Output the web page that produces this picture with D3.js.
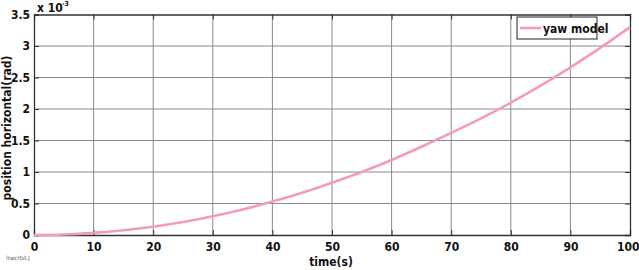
<!DOCTYPE html>
<html><head><meta charset="utf-8">
<script src="https://cdn.jsdelivr.net/npm/d3@7"></script>
<style>body{margin:0;background:#fff}svg{display:block}</style>
</head><body>
<svg id="c" width="639" height="270"></svg>
<script>
const timeValues = [0, 5, 10, 15, 20, 25, 30, 35, 40, 45, 50, 55, 60, 65, 70, 75, 80, 85, 90, 95, 100];
const yawValues  = [0, 0.008, 0.033, 0.075, 0.132, 0.206, 0.297, 0.405, 0.53, 0.67, 0.83, 1.0, 1.19, 1.40, 1.62, 1.85, 2.10, 2.37, 2.66, 2.97, 3.30];
const xTicks = [0,10,20,30,40,50,60,70,80,90,100];
const yTicks = [0,0.5,1,1.5,2,2.5,3,3.5];
const seriesName = "yaw model";

const svg = d3.select("#c");
const L = 34, R = 630, T = 14.5, B = 235;
const x = d3.scaleLinear().domain([0,100]).range([L,R]);
const y = d3.scaleLinear().domain([0,3.5]).range([B,T]);
const font = "'DejaVu Sans Condensed','Liberation Sans Narrow','Arial Narrow',sans-serif";

// grid
svg.append("g").selectAll("line").data(xTicks.slice(1,-1)).join("line")
  .attr("x1",d=>x(d)).attr("x2",d=>x(d)).attr("y1",T).attr("y2",B)
  .attr("stroke","#8a8a8a").attr("stroke-width",1);
svg.append("g").selectAll("line").data(yTicks.slice(1,-1)).join("line")
  .attr("y1",d=>y(d)).attr("y2",d=>y(d)).attr("x1",L).attr("x2",R)
  .attr("stroke","#8a8a8a").attr("stroke-width",1);

// axes with inward ticks
const ax = svg.append("g").attr("transform",`translate(0,${B})`)
  .call(d3.axisBottom(x).tickValues(xTicks).tickSize(-5).tickPadding(7).tickFormat(d3.format("d")));
const axT = svg.append("g").attr("transform",`translate(0,${T})`)
  .call(d3.axisTop(x).tickValues(xTicks).tickSize(-5).tickFormat(""));
const ay = svg.append("g").attr("transform",`translate(${L},0)`)
  .call(d3.axisLeft(y).tickValues(yTicks).tickSize(-5).tickPadding(4).tickFormat(d=>d3.format("")(d)));
const ayR = svg.append("g").attr("transform",`translate(${R},0)`)
  .call(d3.axisRight(y).tickValues(yTicks).tickSize(-5).tickFormat(""));
[ax,axT,ay,ayR].forEach(g=>{
  g.selectAll("path").attr("stroke","#333").attr("stroke-width",1.3);
  g.selectAll("line").attr("stroke","#333");
  g.selectAll("text").attr("fill","#111").style("font-family",font).style("font-size","12px").style("font-weight","bold");
});
ax.selectAll(".tick text").filter(d=>d===100).attr("text-anchor","end").attr("dx","9");

// line
svg.append("path").datum(timeValues.map((t,i)=>[t,yawValues[i]]))
  .attr("fill","none").attr("stroke","#f49ac1").attr("stroke-width",2.6)
  .attr("d", d3.line().x(d=>x(d[0])).y(d=>y(d[1])).curve(d3.curveMonotoneX));

// exponent
svg.append("text").attr("x",37).attr("y",12).text("x 10")
  .style("font-family",font).style("font-size","12px").style("font-weight","bold").attr("fill","#111");
svg.append("text").attr("x",62).attr("y",6).text("-3")
  .style("font-family",font).style("font-size","7px").style("font-weight","bold").attr("fill","#111");

// legend
const lg = svg.append("g");
lg.append("rect").attr("x",517).attr("y",17).attr("width",80).attr("height",22)
  .attr("fill","#fff").attr("stroke","#222").attr("stroke-width",1);
lg.append("line").attr("x1",520).attr("x2",541).attr("y1",28).attr("y2",28)
  .attr("stroke","#f49ac1").attr("stroke-width",2.6);
lg.append("text").attr("x",543).attr("y",32.5).text(seriesName)
  .style("font-family",font).style("font-size","12px").style("font-weight","bold").attr("fill","#111");

// axis labels
svg.append("text").attr("x",331).attr("y",266).attr("text-anchor","middle").text("time(s)")
  .style("font-family",font).style("font-size","12px").style("font-weight","bold").attr("fill","#111");
svg.append("text").attr("transform","translate(11,128) rotate(-90)").attr("text-anchor","middle")
  .text("position horizontal(rad)")
  .style("font-family",font).style("font-size","12px").style("font-weight","bold").attr("fill","#111");

svg.append("text").attr("x",6).attr("y",260).text("lnecrtst.J")
  .style("font-family",font).style("font-size","6px").attr("fill","#555");
</script>
</body></html>
